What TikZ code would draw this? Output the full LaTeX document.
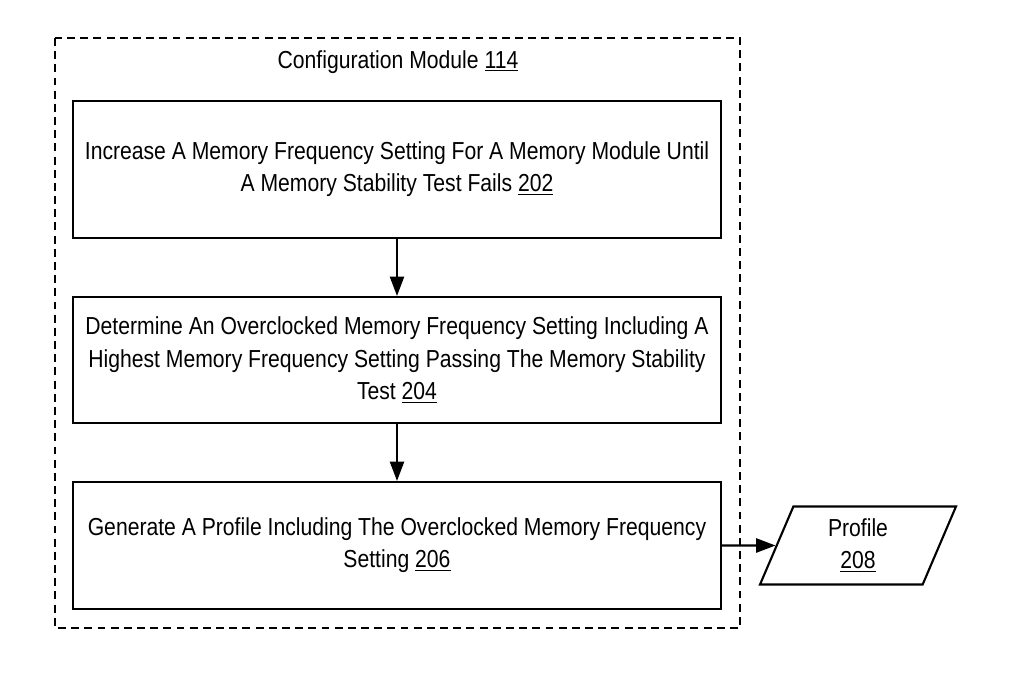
\documentclass[tikz,border=0pt]{standalone}
\usepackage{fontspec}
\setmainfont{Liberation Sans}[FakeStretch=0.86]
\usetikzlibrary{arrows.meta,shapes.geometric}

\tikzset{
  stepbox/.style={draw, line width=1.2pt, minimum width=12.96cm, align=center},
  flow/.style={-{Triangle[length=11pt,width=8pt]}, line width=1.2pt},
}

\begin{document}
\begin{tikzpicture}[x=0.02cm,y=-0.02cm,font=\fontsize{14}{18.3}\selectfont]
    \useasboundingbox (0,0) rectangle (1020,677);

    % Module border
    \draw[line width=1.2pt, dash pattern=on 4.5pt off 3pt] (55,38) rectangle (740,628);
    \node (title) at (398,62) {Configuration Module \underline{114}};

    % Steps
    \node[stepbox, minimum height=2.74cm] (increase) at (397,169.5)
        {Increase A Memory Frequency Setting For A Memory Module Until\\A Memory Stability Test Fails \underline{202}};
    \node[stepbox, minimum height=2.52cm] (determine) at (397,360)
        {Determine An Overclocked Memory Frequency Setting Including A\\Highest Memory Frequency Setting Passing The Memory Stability\\Test \underline{204}};
    \node[stepbox, minimum height=2.54cm] (generate) at (397,545.5)
        {Generate A Profile Including The Overclocked Memory Frequency\\Setting \underline{206}};

    % Output
    \node[draw, line width=1.2pt, trapezium, trapezium left angle=63, trapezium right angle=117,
          trapezium stretches body, minimum width=3.92cm, minimum height=1.56cm, align=center] (profile) at (858,545.5)
        {Profile\\\underline{208}};

    % Arrows
    \draw[flow] (increase) -- (determine);
    \draw[flow] (determine) -- (generate);
    \draw[flow] (generate.east) -- (profile.west);
\end{tikzpicture}
\end{document}
